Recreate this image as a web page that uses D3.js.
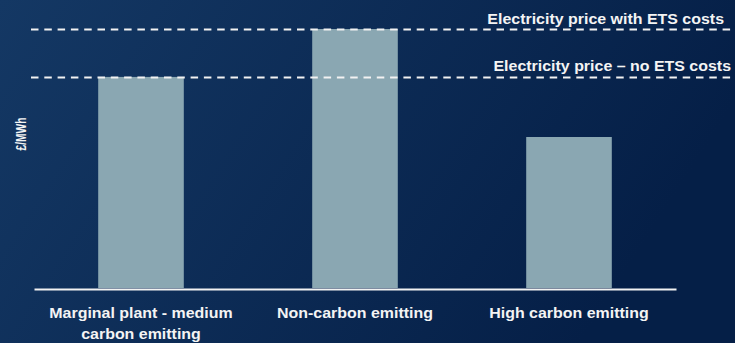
<!DOCTYPE html>
<html>
<head>
<meta charset="utf-8">
<script src="https://cdn.jsdelivr.net/npm/d3@7"></script>
<style>
  html, body { margin: 0; padding: 0; background: #0b2a55; }
  svg { display: block; }
  text { font-family: "Liberation Sans", Arial, sans-serif; font-weight: bold; fill: #f4f4f4; }
</style>
</head>
<body>
<svg id="chart" width="735" height="343"></svg>
<script>
// Generation cost by plant type (£/MWh, indexed)
const categories = ["Marginal plant - medium carbon emitting", "Non-carbon emitting", "High carbon emitting"];
const categoryLines = [["Marginal plant - medium", "carbon emitting"], ["Non-carbon emitting"], ["High carbon emitting"]];
const values = [81.5, 100, 58.3];

// Reference price levels
const priceLabels = ["Electricity price with ETS costs", "Electricity price \u2013 no ETS costs"];
const priceValues = [100, 81.5];

const W = 735, H = 343;
const STRETCH = 1.14; // wide lettering
const svg = d3.select("#chart");

// Background gradient
const defs = svg.append("defs");
const grad = defs.append("linearGradient")
  .attr("id", "bg").attr("x1", "0").attr("y1", "0").attr("x2", "1").attr("y2", "0.3");
grad.append("stop").attr("offset", "0%").attr("stop-color", "#143864");
grad.append("stop").attr("offset", "100%").attr("stop-color", "#051f47");
svg.append("rect").attr("width", W).attr("height", H).attr("fill", "url(#bg)");

const x = d3.scaleBand().domain(categories).range([34, 676]).paddingInner(0.6).paddingOuter(0.3);
const y = d3.scaleLinear().domain([0, 100]).range([288, 29]);

// Bars
svg.append("g").selectAll("rect")
  .data(categories)
  .join("rect")
  .attr("x", d => x(d))
  .attr("width", x.bandwidth())
  .attr("y", (d, i) => y(values[i]))
  .attr("height", (d, i) => y(0) - y(values[i]))
  .attr("fill", "#8aa7b2");

// Baseline axis
const xAxis = svg.append("g")
  .attr("transform", `translate(0,${y(0) + 1})`)
  .call(d3.axisBottom(x).tickSize(0).tickFormat(""));
xAxis.select(".domain").attr("stroke", "#f2f2f2").attr("stroke-width", 2);

// Category labels
svg.append("g").selectAll("text")
  .data(categories)
  .join("text")
  .attr("text-anchor", "middle")
  .attr("font-size", 14)
  .attr("transform", d => `translate(${x(d) + x.bandwidth() / 2},318) scale(${STRETCH},1)`)
  .selectAll("tspan")
  .data((d, i) => categoryLines[i])
  .join("tspan")
  .attr("x", 0)
  .attr("dy", (d, j) => j === 0 ? 0 : 21)
  .text(d => d);

// Price reference lines
svg.append("g").selectAll("line")
  .data(priceValues)
  .join("line")
  .attr("x1", 31).attr("x2", 731)
  .attr("y1", d => Math.round(y(d)) + 0.5)
  .attr("y2", d => Math.round(y(d)) + 0.5)
  .attr("stroke", "#f2f2f2")
  .attr("stroke-width", 2)
  .attr("stroke-dasharray", "7.5,5.8");

svg.append("g").selectAll("text")
  .data(priceLabels)
  .join("text")
  .attr("text-anchor", "end")
  .attr("font-size", 14)
  .attr("transform", (d, i) => `translate(${i === 0 ? 724 : 731},${y(priceValues[i]) - 5.5}) scale(${STRETCH},1)`)
  .text(d => d);

// Y axis title
svg.append("text")
  .attr("transform", "translate(26,134) rotate(-90) scale(0.93,1.3)")
  .attr("text-anchor", "middle")
  .attr("font-size", 11)
  .text("£/MWh");
</script>
</body>
</html>
